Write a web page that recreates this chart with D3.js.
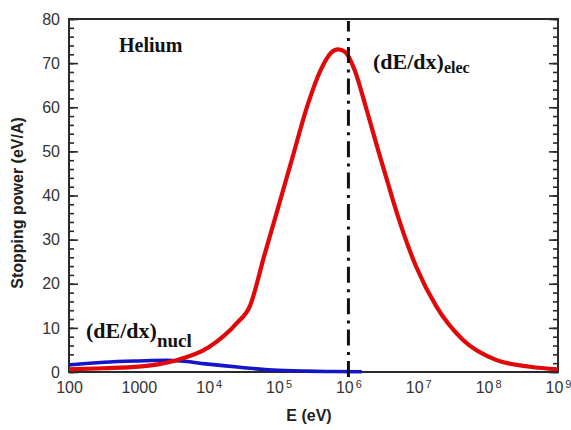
<!DOCTYPE html>
<html>
<head>
<meta charset="utf-8">
<script src="https://cdn.jsdelivr.net/npm/d3@7"></script>
<style>
  html, body { margin: 0; padding: 0; background: #fff; }
  svg { display: block; }
</style>
</head>
<body>
<svg id="chart" width="571" height="430"></svg>
<script>
// ---- data ----
const elecE = [100, 316, 1000, 3162, 1e4, 2.5e4, 3.9e4, 6.3e4, 1e5, 1.58e5, 2.63e5, 4e5, 5.6e5, 7.1e5, 8.9e5, 1.23e6, 1.78e6, 2.66e6, 3.72e6, 5.13e6, 9.3e6, 1.82e7, 4.37e7, 1.32e8, 4e8, 1e9];
const elecS = [0.6, 0.85, 1.2, 2.5, 5.6, 11.0, 15.0, 26.6, 37.6, 48.6, 60.7, 68.4, 72.3, 73.1, 72.6, 68.4, 60.0, 50.3, 42.5, 35.2, 23.9, 14.8, 7.25, 2.7, 1.2, 0.6];
const nuclE = [100, 316, 1000, 2500, 4000, 9000, 2.8e4, 8.3e4, 2.5e5, 6e5, 1.55e6];
const nuclS = [1.6, 2.2, 2.5, 2.65, 2.5, 1.85, 1.06, 0.45, 0.2, 0.1, 0.05];
const xTicks = [1e2, 1e3, 1e4, 1e5, 1e6, 1e7, 1e8, 1e9];
const xTickBase = ["100", "1000", "10", "10", "10", "10", "10", "10"];
const xTickExp = ["", "", "4", "5", "6", "7", "8", "9"];
const yTicks = [0, 10, 20, 30, 40, 50, 60, 70, 80];
const yMinorTicks = d3.range(0, 81, 2);
const peakE = 1e6;

// ---- layout ----
const L = 69, R = 558, T = 19, B = 372;
const svg = d3.select("#chart");
const x = d3.scaleLog().domain([1e2, 1e9]).range([L, R]);
const y = d3.scaleLinear().domain([0, 80]).range([B, T]);

const axisColor = "#2a2a2a";
const labelColor = "#333";

// frame
svg.append("rect").attr("x", L).attr("y", T).attr("width", R - L).attr("height", B - T)
  .attr("fill", "none").attr("stroke", axisColor).attr("stroke-width", 2);

// left axis (major + minor, inward)
const gLeft = svg.append("g").attr("transform", `translate(${L},0)`)
  .call(d3.axisLeft(y).tickValues(yTicks).tickSizeInner(-9).tickSizeOuter(0).tickPadding(9));
const gLeftMinor = svg.append("g").attr("transform", `translate(${L},0)`)
  .call(d3.axisLeft(y).tickValues(yMinorTicks).tickSizeInner(-5).tickSizeOuter(0).tickFormat(""));
// right axis (inward)
const gRight = svg.append("g").attr("transform", `translate(${R},0)`)
  .call(d3.axisRight(y).tickValues(yTicks).tickSizeInner(-9).tickSizeOuter(0).tickFormat(""));
const gRightMinor = svg.append("g").attr("transform", `translate(${R},0)`)
  .call(d3.axisRight(y).tickValues(yMinorTicks).tickSizeInner(-5).tickSizeOuter(0).tickFormat(""));

[gLeft, gLeftMinor, gRight, gRightMinor].forEach(g => {
  g.select(".domain").remove();
  g.selectAll("line").attr("stroke", axisColor).attr("stroke-width", 1.6);
});
gLeft.selectAll("text").attr("font-family", "Liberation Sans, Arial, sans-serif")
  .attr("font-size", 16).attr("fill", labelColor);

// bottom axis labels
const gBottom = svg.append("g").attr("transform", `translate(0,${B})`)
  .call(d3.axisBottom(x).tickValues(xTicks).tickSize(0).tickPadding(10).tickFormat(""));
gBottom.select(".domain").remove();
gBottom.selectAll(".tick text").each(function(d, i) {
  const t = d3.select(this);
  t.attr("font-family", "Liberation Sans, Arial, sans-serif").attr("font-size", 16)
    .attr("fill", labelColor).text(null);
  t.append("tspan").text(xTickBase[i]);
  if (xTickExp[i]) {
    t.append("tspan").attr("dx", 2).attr("dy", "-0.45em").attr("font-size", 11).text(xTickExp[i]);
  }
});

// curves
const line = d3.line().x(d => x(d[0])).y(d => y(d[1])).curve(d3.curveMonotoneX);
svg.append("path").datum(nuclE.map((e, i) => [e, nuclS[i]]))
  .attr("d", line).attr("fill", "none").attr("stroke", "#1414c8").attr("stroke-width", 3.6);
svg.append("path").datum(elecE.map((e, i) => [e, elecS[i]]))
  .attr("d", line).attr("fill", "none").attr("stroke", "#e00808").attr("stroke-width", 4.2)
  .attr("stroke-linejoin", "round");

// dash-dot line at 10^6
svg.append("line").attr("x1", x(peakE)).attr("x2", x(peakE)).attr("y1", B + 5).attr("y2", T + 2)
  .attr("stroke", "#111").attr("stroke-width", 3).attr("stroke-dasharray", "16,6,3,6.4");

// annotations
svg.append("text").attr("x", 119).attr("y", 52)
  .attr("font-family", "Liberation Serif, Times New Roman, serif").attr("font-weight", "bold")
  .attr("font-size", 20).attr("fill", "#111").text("Helium");

const elecLab = svg.append("text").attr("x", 373).attr("y", 69)
  .attr("font-family", "Liberation Serif, Times New Roman, serif").attr("font-weight", "bold")
  .attr("fill", "#111");
elecLab.append("tspan").attr("font-size", 22).text("(dE/dx)");
elecLab.append("tspan").attr("font-size", 16).attr("dy", 4).text("elec");

const nuclLab = svg.append("text").attr("x", 86).attr("y", 338)
  .attr("font-family", "Liberation Serif, Times New Roman, serif").attr("font-weight", "bold")
  .attr("fill", "#111");
nuclLab.append("tspan").attr("font-size", 22).text("(dE/dx)");
nuclLab.append("tspan").attr("font-size", 19).attr("dy", 9).text("nucl");

// axis titles
svg.append("text").attr("x", 309).attr("y", 421).attr("text-anchor", "middle")
  .attr("font-family", "Liberation Sans, Arial, sans-serif").attr("font-weight", "bold")
  .attr("font-size", 16).attr("fill", "#222").text("E (eV)");
svg.append("text").attr("transform", "translate(23,203) rotate(-90)").attr("text-anchor", "middle")
  .attr("font-family", "Liberation Sans, Arial, sans-serif").attr("font-weight", "bold")
  .attr("font-size", 16).attr("fill", "#222").text("Stopping power (eV/A)");
</script>
</body>
</html>
